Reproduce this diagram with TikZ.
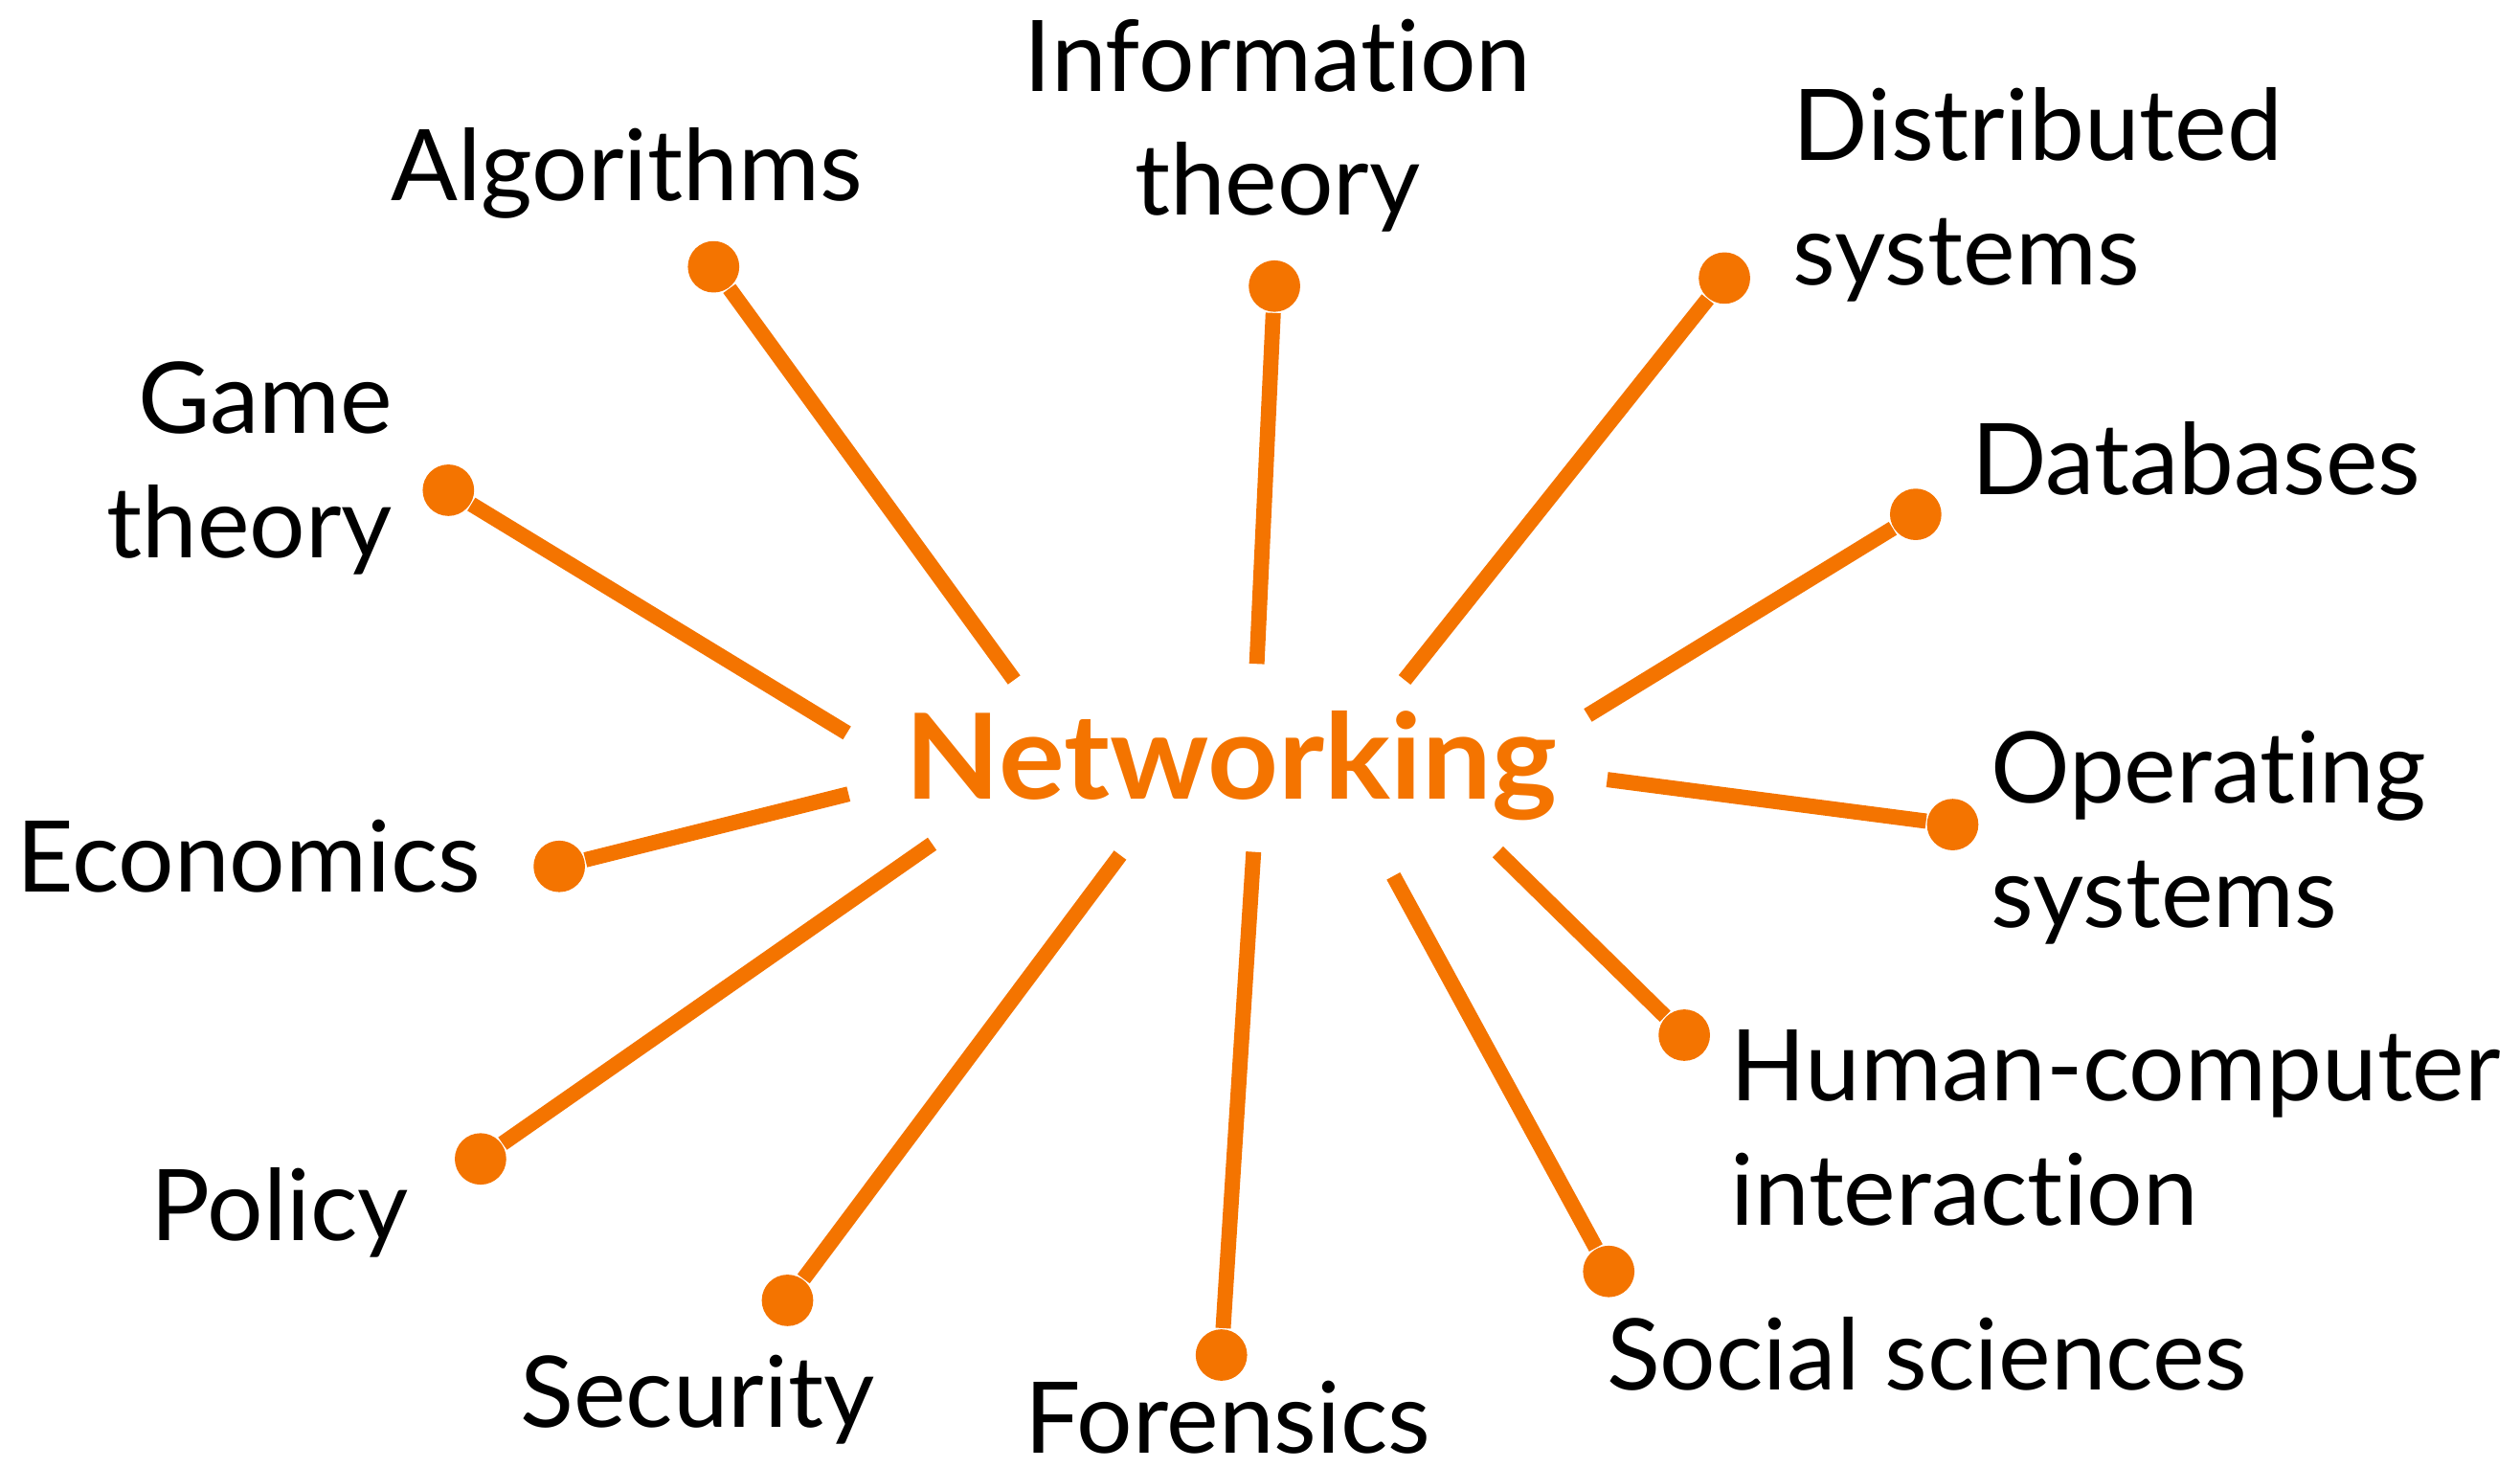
\documentclass[tikz,border=0pt]{standalone}
\usepackage{fontspec}
\setmainfont{Lato}[Ligatures=NoCommon]
\usepackage{xcolor}
\usetikzlibrary{positioning}
\definecolor{netorange}{HTML}{F47400}
\tikzset{
  % Hub and spoke styles
  hub/.style={font=\fontsize{21}{25}\selectfont\bfseries\addfontfeature{FakeStretch=1.04}, text=netorange, inner sep=0pt},
  topic/.style={font=\fontsize{17.5}{22}\selectfont, inner sep=0pt},
  dot/.style={circle, fill=netorange, minimum size=0.32cm, inner sep=0pt},
  spoke/.style={draw=netorange, line width=2.7pt},
}

\begin{document}
\begin{tikzpicture}[x=0.01cm, y=-0.01cm]
    \useasboundingbox (0,0) rectangle (1568,913);

    % Hub
    \node[hub, anchor=base] (net) at (766,497) {Networking};

    % Inner ends of the spokes
    \coordinate (alg-in) at (631,423);
    \coordinate (inf-in) at (782,413);
    \coordinate (dis-in) at (874,423);
    \coordinate (dbs-in) at (988,445);
    \coordinate (ops-in) at (1000,485);
    \coordinate (hci-in) at (932,530);
    \coordinate (soc-in) at (867,545);
    \coordinate (for-in) at (780,530);
    \coordinate (sec-in) at (697,532);
    \coordinate (pol-in) at (580,525);
    \coordinate (eco-in) at (528,494);
    \coordinate (gam-in) at (527,456);

    % Dots
    \node[dot] (alg) at (444,166) {};
    \node[dot] (inf) at (793,178) {};
    \node[dot] (dis) at (1073,173) {};
    \node[dot] (dbs) at (1192,320) {};
    \node[dot] (ops) at (1215,513) {};
    \node[dot] (hci) at (1048,644) {};
    \node[dot] (soc) at (1001,791) {};
    \node[dot] (for) at (760,843) {};
    \node[dot] (sec) at (490,809) {};
    \node[dot] (pol) at (299,721) {};
    \node[dot] (eco) at (348,539) {};
    \node[dot] (gam) at (279,305) {};

    % Spokes
    \foreach \t in {alg,inf,dis,dbs,ops,hci,soc,for,sec,pol,eco,gam}
      \draw[spoke] (\t-in) -- (\t);

    % Topics (base = last line)
    \node[topic, anchor=base] (alg-txt) at (390,125) {Algorithms};
    \node[topic, anchor=base, align=center] (inf-txt) at (795,134) {Information\\theory};
    \node[topic, anchor=base west, align=left] (dis-txt) at (1115,177) {Distributed\\systems};
    \node[topic, anchor=base west] (dbs-txt) at (1226,308) {Databases};
    \node[topic, anchor=base west, align=left] (ops-txt) at (1238,577) {Operating\\systems};
    \node[topic, anchor=base west, align=left] (hci-txt) at (1076,762) {Human-computer\\interaction};
    \node[topic, anchor=base west] (soc-txt) at (999,865) {Social sciences};
    \node[topic, anchor=base] (for-txt) at (764,904) {Forensics};
    \node[topic, anchor=base] (sec-txt) at (434,888) {Security};
    \node[topic, anchor=base] (pol-txt) at (174,772) {Policy};
    \node[topic, anchor=base west] (eco-txt) at (10,555) {Economics};
    \node[topic, anchor=base east, align=right] (gam-txt) at (245,347) {Game\\theory};
\end{tikzpicture}
\end{document}
